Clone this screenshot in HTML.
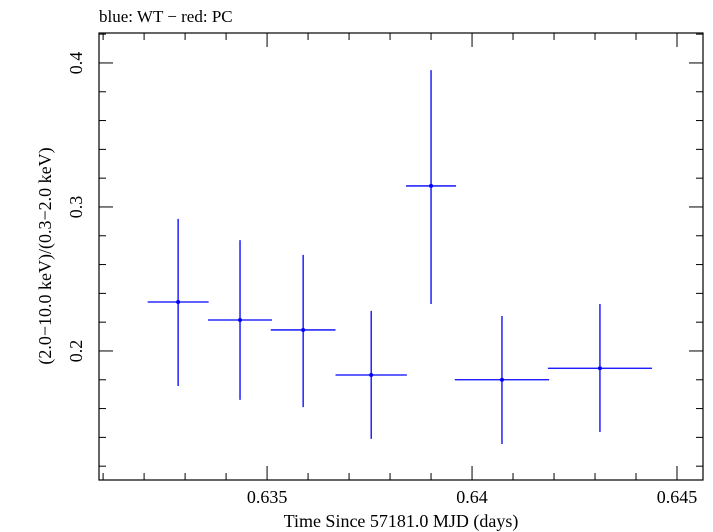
<!DOCTYPE html>
<html><head><meta charset="utf-8"><style>
body{margin:0;background:#fff;}
svg{display:block;font-family:"Liberation Serif",serif;}
</style></head><body>
<svg id="chart" width="713" height="532" xmlns="http://www.w3.org/2000/svg">
<text x="99" y="22" font-size="17">blue: WT − red: PC</text>
<g id="axes"></g><g id="marks"></g>
<text x="401" y="527" font-size="18" text-anchor="middle">Time Since 57181.0 MJD (days)</text>
<text transform="translate(51,256) rotate(-90)" font-size="18" text-anchor="middle">(2.0−10.0 keV)/(0.3−2.0 keV)</text>
</svg>
<script>
const times=[0.63283,0.63434,0.63588,0.63754,0.63900,0.64073,0.64312];
const timeErr=[0.000744,0.00078,0.00079,0.00087,0.00061,0.00115,0.00127];
const ratios=[0.234,0.2215,0.2146,0.1833,0.3146,0.180,0.188];
const ratioHi=[0.2917,0.277,0.2667,0.2278,0.395,0.2243,0.2326];
const ratioLo=[0.1757,0.166,0.161,0.139,0.2326,0.1354,0.1437];
const xTicks=[0.635,0.64,0.645];
const xTickLabels=["0.635","0.64","0.645"];
const yTicks=[0.2,0.3,0.4];
const yTickLabels=["0.2","0.3","0.4"];
const L=99,R=703,T=33,B=480,x0=0.63090,x1=0.645634,y0=0.1104,y1=0.4208;
const X=v=>L+(v-x0)/(x1-x0)*(R-L);
const Y=v=>B-(v-y0)/(y1-y0)*(B-T);
const NS="http://www.w3.org/2000/svg";
function mk(p,t,a){const e=document.createElementNS(NS,t);for(const k in a)e.setAttribute(k,a[k]);p.appendChild(e);return e;}
const ax=document.getElementById('axes'),mg=document.getElementById('marks');
const fr=mk(ax,'rect',{x:L,y:T,width:R-L,height:B-T,fill:'none',stroke:'#000','stroke-width':1.2});


for(let i=631;i<=645;i++){const v=i/1000,x=X(v),maj=i%5==0,len=maj?14:7;
 const t1=mk(ax,'line',{x1:x,x2:x,y1:B,y2:B-len,stroke:'#000'});
 const t2=mk(ax,'line',{x1:x,x2:x,y1:T,y2:T+len,stroke:'#000'});}
xTicks.forEach((v,i)=>{const t=mk(ax,'text',{x:X(v),y:503,'font-size':18,'text-anchor':'middle'});t.textContent=xTickLabels[i];});
for(let i=6;i<=21;i++){const v=i/50,y=Y(v);if(v<y0||v>y1)continue;const maj=i%5==0,len=maj?14:7;
 const t1=mk(ax,'line',{x1:L,x2:L+len,y1:y,y2:y,stroke:'#000'});
 const t2=mk(ax,'line',{x1:R,x2:R-len,y1:y,y2:y,stroke:'#000'});}
yTicks.forEach((v,i)=>{const t=mk(ax,'text',{transform:`translate(82,${Y(v)}) rotate(-90)`,'font-size':18,'text-anchor':'middle'});t.textContent=yTickLabels[i];});
times.forEach((t,i)=>{const g=mk(mg,'g',{stroke:'#0000ff','stroke-width':1.3});
 
 
 mk(g,'line',{x1:X(t-timeErr[i]),x2:X(t+timeErr[i]),y1:Y(ratios[i]),y2:Y(ratios[i])});
 mk(g,'line',{x1:X(t),x2:X(t),y1:Y(ratioHi[i]),y2:Y(ratioLo[i])});
 mk(g,'circle',{cx:X(t),cy:Y(ratios[i]),r:2,fill:'#0000ff',stroke:'none'});});
</script>
</body></html>
